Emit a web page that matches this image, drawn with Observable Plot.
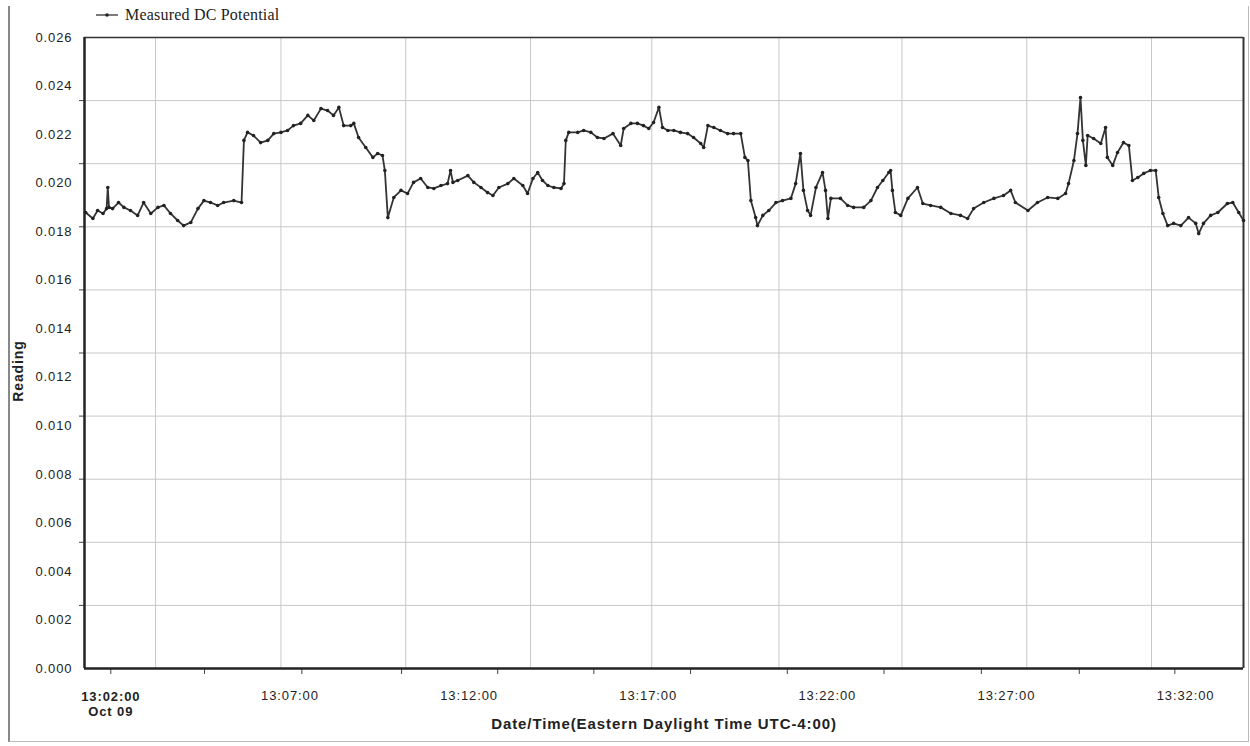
<!DOCTYPE html>
<html>
<head>
<meta charset="utf-8">
<script src="https://cdn.jsdelivr.net/npm/d3@7"></script>
<script src="https://cdn.jsdelivr.net/npm/@observablehq/plot@0.6"></script>
<style>
  body { margin: 0; background: #fff; }
  #wrap { position: relative; width: 1250px; height: 746px; overflow: hidden; }
  #border { position: absolute; left: 8px; top: 6px; width: 1238px; height: 735px;
            border-left: 2px solid #888; border-bottom: 1px solid #bbb; border-right: 1px solid #bbb; pointer-events: none; }
  #legend { position: absolute; left: 96px; top: 6px; font-family: "Liberation Serif", "Times New Roman", serif;
            font-size: 16px; color: #222; display: flex; align-items: center; letter-spacing: 0.2px; }
  #legend svg { margin-right: 7px; }
</style>
</head>
<body>
<div id="wrap">
  <div id="chart"></div>
  <div id="border"></div>
  <div id="legend">
    <svg width="22" height="10"><line x1="0" y1="5" x2="22" y2="5" stroke="#333" stroke-width="1.3"/><circle cx="11" cy="5" r="1.8" fill="#222"/></svg>
    <span>Measured DC Potential</span>
  </div>
</div>
<script>
const seriesName = "Measured DC Potential";
const day = "2009-10-09";

const times = [
  "13:01:18","13:01:30","13:01:38","13:01:47","13:01:53","13:01:55","13:01:57","13:02:03","13:02:13","13:02:22",
  "13:02:33","13:02:45","13:02:55","13:03:07","13:03:19","13:03:29","13:03:40","13:03:52","13:04:02","13:04:14",
  "13:04:26","13:04:36","13:04:47","13:04:59","13:05:09","13:05:26","13:05:39","13:05:43","13:05:49","13:05:59",
  "13:06:11","13:06:23","13:06:33","13:06:45","13:06:56","13:07:06","13:07:18","13:07:30","13:07:40","13:07:52",
  "13:08:03","13:08:13","13:08:22","13:08:30","13:08:42","13:08:47","13:08:55","13:09:07","13:09:19","13:09:27",
  "13:09:35","13:09:39","13:09:44","13:09:54","13:10:06","13:10:17","13:10:27","13:10:39","13:10:51","13:11:01",
  "13:11:13","13:11:24","13:11:29","13:11:33","13:11:41","13:11:58","13:12:08","13:12:20","13:12:31","13:12:40",
  "13:12:50","13:13:05","13:13:15","13:13:30","13:13:38","13:13:47","13:13:55","13:14:03","13:14:12","13:14:22",
  "13:14:34","13:14:39","13:14:42","13:14:47","13:15:02","13:15:12","13:15:24","13:15:35","13:15:46","13:16:01",
  "13:16:14","13:16:19","13:16:31","13:16:42","13:16:52","13:17:01","13:17:09","13:17:18","13:17:24","13:17:33",
  "13:17:43","13:17:54","13:18:06","13:18:16","13:18:28","13:18:33","13:18:40","13:18:50","13:19:01","13:19:13",
  "13:19:23","13:19:35","13:19:42","13:19:47","13:19:52","13:20:00","13:20:03","13:20:12","13:20:22","13:20:34",
  "13:20:45","13:20:59","13:21:07","13:21:15","13:21:20","13:21:27","13:21:32","13:21:41","13:21:52","13:21:57",
  "13:22:01","13:22:06","13:22:22","13:22:34","13:22:44","13:23:01","13:23:13","13:23:24","13:23:33","13:23:43",
  "13:23:46","13:23:49","13:23:54","13:24:03","13:24:15","13:24:31","13:24:40","13:24:53","13:25:10","13:25:27",
  "13:25:43","13:25:55","13:26:05","13:26:22","13:26:39","13:26:55","13:27:07","13:27:15","13:27:36","13:27:52",
  "13:28:09","13:28:26","13:28:39","13:28:44","13:28:53","13:28:59","13:29:04","13:29:08","13:29:13","13:29:16",
  "13:29:26","13:29:38","13:29:46","13:29:49","13:29:58","13:30:06","13:30:16","13:30:25","13:30:31","13:30:40",
  "13:30:50","13:31:01","13:31:10","13:31:15","13:31:22","13:31:30","13:31:40","13:31:52","13:32:05","13:32:17",
  "13:32:22","13:32:30","13:32:42","13:32:54","13:33:10","13:33:19","13:33:29","13:33:37"
];

const readings = [
  0.01879,0.01854,0.01887,0.01875,0.01895,0.01982,0.01900,0.01895,0.01920,0.01900,
  0.01887,0.01867,0.01920,0.01875,0.01900,0.01908,0.01875,0.01846,0.01825,0.01838,
  0.01895,0.01928,0.01920,0.01908,0.01920,0.01928,0.01920,0.02176,0.02209,0.02196,
  0.02167,0.02176,0.02204,0.02209,0.02217,0.02237,0.02246,0.02279,0.02258,0.02307,
  0.02299,0.02279,0.02312,0.02237,0.02237,0.02246,0.02188,0.02147,0.02106,0.02122,
  0.02114,0.02052,0.01858,0.01941,0.01970,0.01957,0.02003,0.02019,0.01982,0.01978,
  0.01990,0.01998,0.02052,0.02003,0.02011,0.02031,0.02003,0.01982,0.01961,0.01949,
  0.01982,0.01998,0.02019,0.01990,0.01957,0.02019,0.02044,0.02011,0.01990,0.01982,
  0.01978,0.01998,0.02176,0.02209,0.02209,0.02217,0.02209,0.02188,0.02184,0.02204,
  0.02155,0.02225,0.02246,0.02246,0.02237,0.02225,0.02250,0.02312,0.02229,0.02217,
  0.02217,0.02209,0.02204,0.02188,0.02163,0.02147,0.02237,0.02229,0.02217,0.02204,
  0.02204,0.02204,0.02106,0.02093,0.01928,0.01858,0.01825,0.01867,0.01887,0.01920,
  0.01928,0.01937,0.01998,0.02122,0.01970,0.01887,0.01867,0.01982,0.02044,0.01970,
  0.01854,0.01937,0.01937,0.01908,0.01900,0.01900,0.01928,0.01982,0.02011,0.02044,
  0.02052,0.01970,0.01879,0.01867,0.01937,0.01982,0.01916,0.01908,0.01900,0.01875,
  0.01867,0.01854,0.01895,0.01920,0.01937,0.01949,0.01970,0.01920,0.01887,0.01920,
  0.01941,0.01937,0.01957,0.01998,0.02093,0.02204,0.02353,0.02176,0.02073,0.02196,
  0.02184,0.02163,0.02229,0.02106,0.02073,0.02126,0.02167,0.02155,0.02011,0.02023,
  0.02040,0.02052,0.02052,0.01941,0.01875,0.01825,0.01834,0.01825,0.01858,0.01834,
  0.01792,0.01834,0.01867,0.01879,0.01916,0.01920,0.01879,0.01846
];

const xDomain = ["13:01:16", "13:33:37"];
const xLabelTimes = ["13:07:00","13:12:00","13:17:00","13:22:00","13:27:00","13:32:00"];
const xFirstLabel = ["13:02:00"];
const xFirstLabelText = "13:02:00\nOct 09";
const xTickTimes = ["13:02:00","13:04:37","13:07:20","13:10:07","13:12:48","13:15:29","13:18:11","13:20:53","13:23:35","13:26:18","13:29:02","13:31:42"];
const xGridTimes = ["13:03:15","13:06:45","13:10:14","13:13:43","13:17:06","13:20:39","13:24:05","13:27:34","13:31:03"];
const yDomain = [0, 0.026];
const yLabels = [0,0.002,0.004,0.006,0.008,0.010,0.012,0.014,0.016,0.018,0.020,0.022,0.024,0.026];
const yGrid = [0.0026,0.0052,0.0078,0.0104,0.0130,0.0156,0.0182,0.0208,0.0234];
const xTitle = "Date/Time(Eastern Daylight Time UTC-4:00)";
const yTitle = "Reading";

const parse = d3.timeParse("%Y-%m-%d %H:%M:%S");
const T = s => parse(day + " " + s);
const data = times.map((t, i) => ({ t: T(t), v: readings[i] }));
const x0 = T(xDomain[0]), x1 = T(xDomain[1]);

const chart = Plot.plot({
  width: 1250,
  height: 746,
  marginTop: 37,
  marginLeft: 84,
  marginRight: 7,
  marginBottom: 78,
  style: { fontFamily: "'Liberation Sans', Arial, sans-serif", fontSize: "13px", color: "#222", background: "transparent", letterSpacing: "0.9px" },
  x: { type: "time", domain: [x0, x1] },
  y: { domain: yDomain },
  marks: [
    Plot.gridX(xGridTimes.map(T), { stroke: "#c8c8c8", strokeOpacity: 1, strokeWidth: 1 }),
    Plot.gridY(yGrid, { stroke: "#c8c8c8", strokeOpacity: 1, strokeWidth: 1 }),
    Plot.axisY(yGrid, { tickSize: 5, tickFormat: () => "", label: null, stroke: "#444" }),
    Plot.axisY(yLabels, { tickSize: 0, tickPadding: 12, tickFormat: d3.format(".3f"), label: null, fill: "#222" }),
    Plot.axisX(xTickTimes.map(T), { tickSize: 6, tickFormat: () => "", label: null, stroke: "#444" }),
    Plot.axisX(xLabelTimes.map(T), { tickSize: 0, tickPadding: 22, tickFormat: d3.timeFormat("%H:%M:%S"), label: null, fill: "#222" }),
    Plot.axisX(xFirstLabel.map(T), { tickSize: 0, tickPadding: 22, tickFormat: () => xFirstLabelText, label: null, fontWeight: "bold", fill: "#222", lineHeight: 1.15 }),
    Plot.ruleY([yDomain[1]], { stroke: "#333", strokeWidth: 1.5 }),
    Plot.ruleX([x1], { stroke: "#333", strokeWidth: 2 }),
    Plot.ruleX([x0], { stroke: "#222", strokeWidth: 2.5 }),
    Plot.ruleY([yDomain[0]], { stroke: "#222", strokeWidth: 2.5 }),
    Plot.line(data, { x: "t", y: "v", stroke: "#333", strokeWidth: 1.8 }),
    Plot.dot(data, { x: "t", y: "v", r: 1.8, fill: "#222", stroke: "none" }),
    Plot.text([xTitle], { frameAnchor: "bottom", dy: 60, fontWeight: "bold", fontSize: 15, fill: "#222" }),
    Plot.text([yTitle], { frameAnchor: "left", dx: -66, dy: 18, rotate: -90, textAnchor: "middle", fontWeight: "bold", fontSize: 14, fill: "#222" })
  ]
});
document.getElementById("chart").appendChild(chart);
</script>
</body>
</html>
